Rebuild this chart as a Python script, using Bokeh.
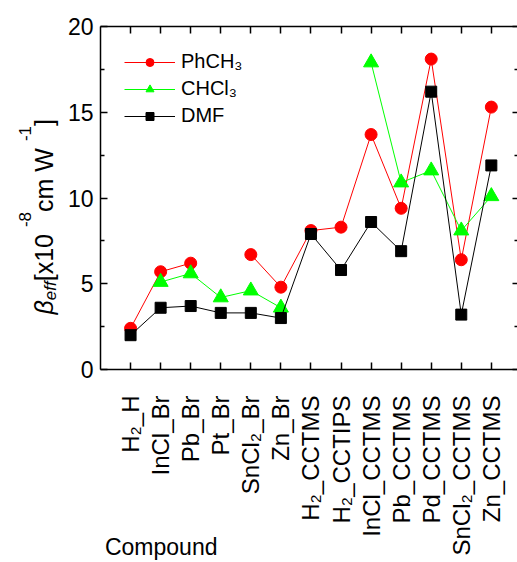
import math
from bokeh.plotting import figure
from bokeh.layouts import row
from bokeh.models import (ColumnDataSource, Range1d, FixedTicker, LinearAxis,
                          Legend, LegendItem)
from bokeh.core.properties import value
from bokeh.embed import file_html
from bokeh.resources import INLINE

# ---- data -------------------------------------------------------------
compounds = ["H\u2082_H", "InCl_Br", "Pb_Br", "Pt_Br", "SnCl\u2082_Br", "Zn_Br",
             "H\u2082_CCTMS", "H\u2082_CCTIPS", "InCl_CCTMS", "Pb_CCTMS",
             "Pd_CCTMS", "SnCl\u2082_CCTMS", "Zn_CCTMS"]
nan = float("nan")
beta_phch3 = [2.4, 5.7, 6.2, nan, 6.7, 4.8, 8.1, 8.3, 13.7, 9.4, 18.1, 6.4, 15.3]
beta_chcl3 = [nan, 5.1, 5.6, 4.2, 4.6, 3.6, nan, nan, 17.9, 10.9, 11.6, 8.1, 10.1]
beta_dmf = [2.0, 3.6, 3.7, 3.3, 3.3, 3.0, 7.9, 5.8, 8.6, 6.9, 16.2, 3.2, 11.9]
y_ticks = [0, 5, 10, 15, 20]
y_minor = [2.5, 7.5, 12.5, 17.5]

idx = list(range(len(compounds)))
src = ColumnDataSource(dict(x=idx, phch3=beta_phch3, chcl3=beta_chcl3, dmf=beta_dmf))

FONT = "Liberation Sans"
W, H = 517, 562
TITLE_W = 60            # strip that carries the rotated y title
LEFT, TOP, BOTTOM = 40, 26, 193
FRAME_H = H - TOP - BOTTOM
Y0, Y1 = 0, 20
y_range = Range1d(Y0, Y1)


def py(sy):
    """page pixel row -> value on the shared y range"""
    return Y0 + (TOP + FRAME_H - sy) * (Y1 - Y0) / FRAME_H


# ---- y title strip (its frame lines up with the chart frame) ---------------
t = figure(width=TITLE_W, height=H, output_backend="svg", toolbar_location=None,
           x_range=Range1d(0, TITLE_W), y_range=y_range,
           x_axis_location=None, y_axis_location=None,
           min_border=0, min_border_left=0, min_border_right=0,
           min_border_top=TOP, min_border_bottom=BOTTOM)
t.grid.visible = False
t.outline_line_color = None
t.background_fill_color = "white"
t.border_fill_color = "white"

adv = {"β": 0.574, "e": 0.556, "f": 0.278, " ": 0.278, "[": 0.278, "]": 0.278,
       "x": 0.5, "0": 0.556, "1": 0.556, "8": 0.556, "-": 0.333, "c": 0.5,
       "m": 0.833, "W": 0.944}
# (text, style, size px, baseline shift px: + raises, - lowers)
parts = [("β", "italic", 25, 0), ("eff", "italic", 17, -7),
         (" [x10", "normal", 25, 0), ("-8", "normal", 17, 19),
         (" cm W", "normal", 25, 0), ("-1", "normal", 17, 19),
         ("]", "normal", 25, 0)]
base_x, sy = 43, 314
for text, style, size, shift in parts:
    t.text(x=[base_x - shift], y=[py(sy)], text=[text], angle=math.pi / 2,
           text_font=value(FONT), text_font_style=style,
           text_font_size=f"{size}px", text_color="black",
           text_align="left", text_baseline="alphabetic")
    sy -= sum(adv[ch] for ch in text) * size

# ---- main chart -----------------------------------------------------------
p = figure(width=W - TITLE_W, height=H, output_backend="svg", toolbar_location=None,
           x_range=Range1d(-1, 12.87), y_range=y_range,
           x_axis_location=None, y_axis_location=None,
           min_border_left=LEFT, min_border_right=0,
           min_border_top=TOP, min_border_bottom=BOTTOM)
p.grid.visible = False
p.outline_line_color = None
p.background_fill_color = "white"
p.border_fill_color = "white"

axis_style = dict(axis_line_width=1.5, major_tick_line_width=1.5,
                  minor_tick_line_width=1.5, major_tick_out=0, minor_tick_out=0,
                  major_tick_line_color="black", minor_tick_line_color="black")
cat_ticker = FixedTicker(ticks=idx)
val_ticker = FixedTicker(ticks=y_ticks, minor_ticks=y_minor)

# the axis title is centred on the axis start; non-breaking spaces in front
# push the visible word to begin just right of the frame edge
x_title = "\u00a0" * 19 + "Compound"
bottom = LinearAxis(ticker=cat_ticker,
                    major_label_overrides={i: c for i, c in enumerate(compounds)},
                    major_label_orientation=math.pi / 2, major_tick_in=7,
                    minor_tick_in=0, major_label_standoff=26,
                    major_label_text_font=FONT, major_label_text_font_size="24px",
                    major_label_text_color="black", axis_line_color="black",
                    axis_label=x_title, axis_label_standoff=-25,
                    axis_label_align="start",
                    axis_label_text_font=FONT, axis_label_text_font_size="23px",
                    axis_label_text_font_style="normal",
                    axis_label_text_color="black", **axis_style)
p.add_layout(bottom, "below")

top = LinearAxis(ticker=cat_ticker, major_tick_in=7, minor_tick_in=0,
                 major_label_standoff=0, major_label_text_font_size="1px",
                 major_label_text_alpha=0, axis_line_color="black", **axis_style)
p.add_layout(top, "above")

left = LinearAxis(ticker=val_ticker, major_tick_in=7, minor_tick_in=4,
                  major_label_standoff=7, major_label_text_font=FONT,
                  major_label_text_font_size="23px", major_label_text_color="black",
                  axis_line_color="black", **axis_style)
p.add_layout(left, "left")

right = LinearAxis(ticker=val_ticker, major_tick_in=5, minor_tick_in=3,
                   major_label_standoff=0, major_label_text_font_size="1px",
                   major_label_text_alpha=0, axis_line_alpha=0, **axis_style)
p.add_layout(right, "right")

# ---- series -----------------------------------------------------------
l1 = p.line("x", "phch3", source=src, line_color="#ff0000", line_width=1)
m1 = p.scatter("x", "phch3", source=src, marker="circle", size=12,
               fill_color="#ff0000", line_color="#ff0000")
l2 = p.line("x", "chcl3", source=src, line_color="#00ff00", line_width=1)
m2 = p.scatter("x", "chcl3", source=src, marker="triangle", size=15,
               fill_color="#00ff00", line_color="#00ff00")
l3 = p.line("x", "dmf", source=src, line_color="black", line_width=1)
m3 = p.scatter("x", "dmf", source=src, marker="square", size=11,
               fill_color="black", line_color="black")

legend = Legend(items=[LegendItem(label="PhCH\u2083", renderers=[l1, m1]),
                       LegendItem(label="CHCl\u2083", renderers=[l2, m2]),
                       LegendItem(label="DMF", renderers=[l3, m3])],
                location="top_left", margin=0, padding=24, spacing=4,
                glyph_width=51, glyph_height=20, label_height=20,
                label_standoff=6, border_line_alpha=0, background_fill_alpha=0,
                label_text_font=FONT, label_text_font_size="20px",
                label_text_color="black")
p.add_layout(legend)

layout = row(t, p, spacing=0)
open("out.html", "w").write(file_html(layout, INLINE))
